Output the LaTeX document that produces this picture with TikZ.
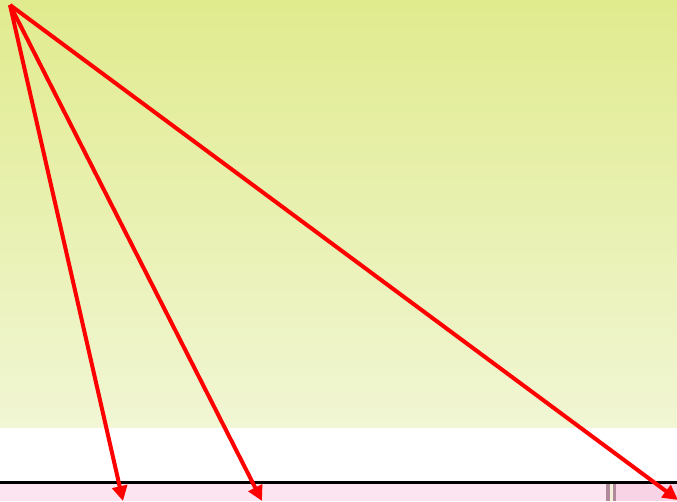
\documentclass[tikz,border=0pt]{standalone}
\usetikzlibrary{arrows.meta}
\begin{document}
\begin{tikzpicture}[x=1pt,y=-1pt,
  conn/.style={draw=red,line width=4pt,-{Triangle[length=15pt,width=15pt]}}]
\useasboundingbox (0,0) rectangle (677,501);
\definecolor{gtop}{HTML}{E0EB8E}
\definecolor{gbot}{HTML}{F1F6D4}
\definecolor{pinkA}{HTML}{FCE4F0}
\definecolor{pinkB}{HTML}{F8D3E6}
\definecolor{mauve}{HTML}{B08A9A}
\definecolor{cream}{HTML}{F3EFD8}
\shade[top color=gtop,bottom color=gbot] (0,0) rectangle (677,428);
\fill[white] (0,428) rectangle (677,481);
\fill[pinkA] (0,484) rectangle (606,501);
\fill[pinkB] (616,484) rectangle (677,501);
\fill[mauve] (606,484) rectangle (609.5,501);
\fill[cream] (609.5,484) rectangle (612.5,501);
\fill[mauve] (612.5,484) rectangle (616,501);
\draw[line width=3.5pt] (0,482.5) -- (677,482.5);
\coordinate (src) at (10,5);
\coordinate (t1) at (123,501);
\coordinate (t2) at (262,501);
\coordinate (t3) at (678,500);
\draw[conn] (src) -- (t1);
\draw[conn] (src) -- (t2);
\draw[conn] (src) -- (t3);
\end{tikzpicture}
\end{document}
